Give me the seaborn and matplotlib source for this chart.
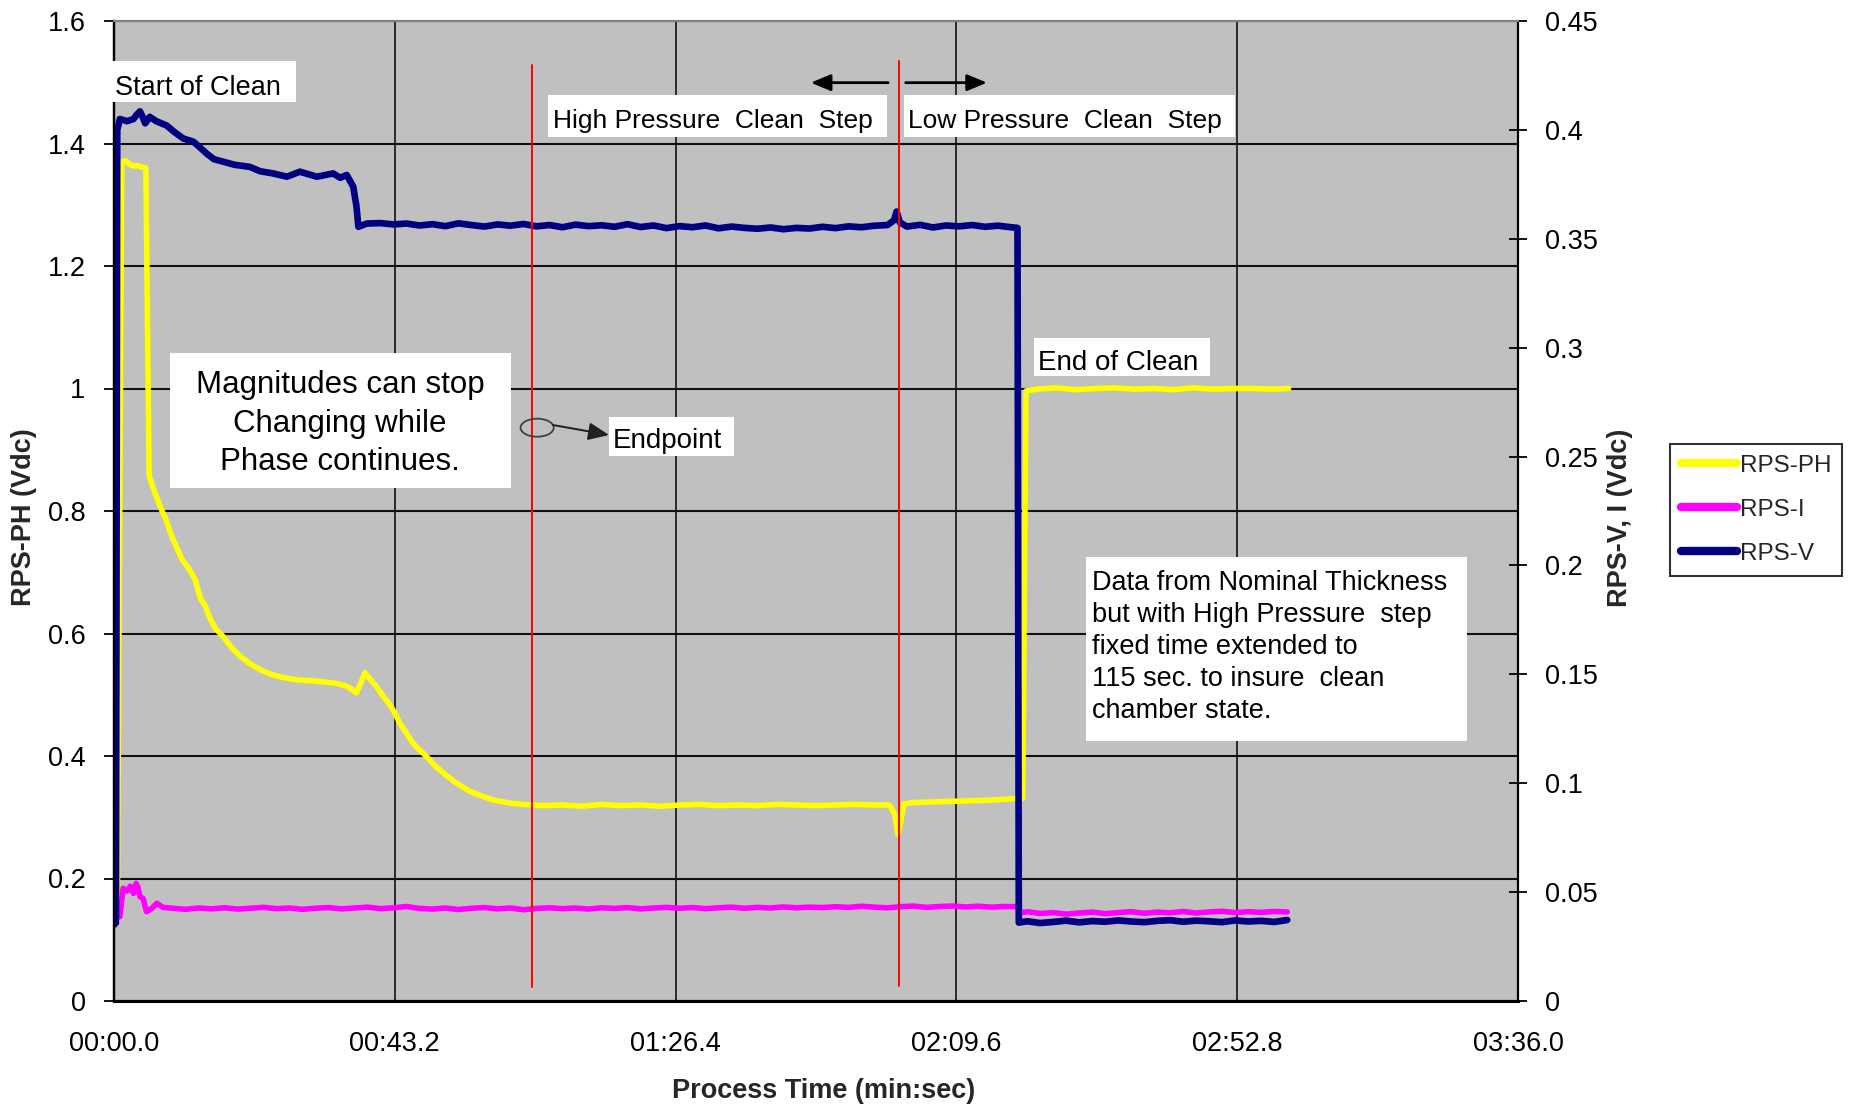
import numpy as np
import matplotlib
matplotlib.use("Agg")
import matplotlib.pyplot as plt
import seaborn as sns
from matplotlib.patches import Rectangle, Ellipse
from matplotlib.lines import Line2D
from matplotlib.ticker import FuncFormatter, FixedLocator

sns.set_style("white")
plt.rcParams['font.family'] = ['Liberation Sans', 'DejaVu Sans']

# ---------------- process data (time in seconds) ----------------
# RPS-PH (left axis, Vdc)
ph_t_start = [0.5, 1.2, 1.8, 2.4, 3.0, 3.6, 4.2, 4.9, 5.4]
ph_v_start = [0.13, 1.370, 1.372, 1.366, 1.363, 1.364, 1.362, 1.360, 0.858]
ph_t_decay = [5.7, 6.3, 7.1, 8.0, 8.9, 9.6, 10.4, 11.5, 12.5, 13.0,
              13.4, 14.0, 14.8, 15.7, 16.8, 18.0, 19.4, 21.0, 22.5, 24.5,
              26.6, 28.5, 30.5, 32.2, 34.0, 35.5, 36.3, 37.3, 38.0, 38.6,
              39.3, 40.4, 41.4, 42.5, 43.3, 44.0, 45.0, 46.0, 47.0, 48.1,
              49.3, 50.7, 52.5, 54.8, 56.5, 58.4, 61.0, 63.0]
ph_v_decay = [0.848, 0.830, 0.807, 0.786, 0.758, 0.742, 0.722, 0.706, 0.688, 0.668,
              0.655, 0.646, 0.624, 0.607, 0.595, 0.578, 0.563, 0.550, 0.541, 0.532,
              0.527, 0.524, 0.523, 0.521, 0.519, 0.515, 0.511, 0.503, 0.520, 0.536,
              0.527, 0.513, 0.498, 0.483, 0.468, 0.453, 0.437, 0.421, 0.410, 0.399,
              0.385, 0.372, 0.357, 0.342, 0.335, 0.328, 0.323, 0.321]
ph_t_high = [66, 69, 72, 75, 78, 81, 84, 87, 90, 93, 96, 99, 102, 105, 108, 111, 114, 117]
ph_v_high = [0.319, 0.320, 0.318, 0.321, 0.319, 0.320, 0.318, 0.320, 0.321, 0.319,
             0.320, 0.319, 0.321, 0.320, 0.319, 0.320, 0.321, 0.320]
ph_t_switch = [119.3, 120.1, 120.6, 121.0, 121.5]
ph_v_switch = [0.320, 0.305, 0.272, 0.290, 0.322]
ph_t_low = [123, 126, 129, 132, 135, 138, 139.8, 140.3]
ph_v_low = [0.324, 0.325, 0.326, 0.327, 0.328, 0.330, 0.331, 0.996]
ph_t_end = [142, 145, 148, 151, 154, 157, 160, 163, 166, 169, 172, 175, 178, 180.7]
ph_v_end = [0.999, 1.001, 0.998, 1.000, 1.001, 0.999, 1.000, 0.998, 1.001, 0.999,
            1.000, 1.000, 0.999, 1.000]

# RPS-V (right axis, Vdc)
v_t_start = [0.0, 0.3, 0.5, 0.9, 2.0, 3.0, 3.5, 4.0, 4.4, 4.8,
             5.5, 6.5, 8.1, 9.3, 10.7, 12.2, 13.2, 14.3, 15.4, 16.8,
             18.5, 20.9, 22.5, 24.5, 26.6, 28.6, 31.2, 33.7, 34.8, 35.8,
             36.8, 37.3, 37.6, 38.9]
v_v_start = [0.035, 0.036, 0.400, 0.405, 0.404, 0.405, 0.407, 0.4085, 0.406, 0.403,
             0.406, 0.404, 0.402, 0.399, 0.396, 0.3946, 0.392, 0.389, 0.3865, 0.3854,
             0.384, 0.383, 0.381, 0.380, 0.3785, 0.3808, 0.3785, 0.380, 0.378, 0.3793,
             0.374, 0.365, 0.3555, 0.357]
v_t_high = np.arange(41, 120, 2)
v_v_high = [0.3572, 0.3566, 0.3570, 0.3561, 0.3567, 0.3558, 0.3571, 0.3563, 0.3556, 0.3566,
            0.3560, 0.3568, 0.3557, 0.3563, 0.3553, 0.3565, 0.3558, 0.3562, 0.3555, 0.3567,
            0.3554, 0.3561, 0.3549, 0.3558, 0.3553, 0.3561, 0.3548, 0.3556, 0.3550, 0.3546,
            0.3552, 0.3544, 0.3550, 0.3547, 0.3555, 0.3549, 0.3557, 0.3553, 0.3560, 0.3563]
v_t_switch = [120.0, 120.4, 120.9]
v_v_switch = [0.3585, 0.3625, 0.3575]
v_t_low = [122, 124, 126, 128, 130, 132, 134, 136, 138, 139.0, 139.2]
v_v_low = [0.3556, 0.3564, 0.3552, 0.3561, 0.3557, 0.3563, 0.3555, 0.3560, 0.3553, 0.3550, 0.0360]
v_t_end = np.arange(140.5, 181, 2)
v_v_end = [0.0366, 0.0358, 0.0363, 0.0369, 0.0361, 0.0367, 0.0364, 0.0370, 0.0365, 0.0362,
           0.0368, 0.0371, 0.0364, 0.0369, 0.0366, 0.0362, 0.0370, 0.0365, 0.0368, 0.0363, 0.0372]

# RPS-I (right axis, Vdc)
i_t_start = [0.9, 1.4, 2.0, 2.5, 3.0, 3.4, 3.7, 4.0, 4.5, 5.0, 5.8, 6.6, 7.5]
i_v_start = [0.0387, 0.0517, 0.0505, 0.0527, 0.0494, 0.0540, 0.0520, 0.0479, 0.0470, 0.0410,
             0.0425, 0.0449, 0.0430]
i_t_run = np.arange(9, 139, 2)
i_v_run = [0.0426, 0.0421, 0.0427, 0.0423, 0.0428, 0.0422, 0.0426, 0.0430, 0.0424, 0.0427,
           0.0421, 0.0426, 0.0429, 0.0423, 0.0427, 0.0431, 0.0424, 0.0428, 0.0434, 0.0425,
           0.0422, 0.0427, 0.0420, 0.0426, 0.0429, 0.0423, 0.0427, 0.0419, 0.0425, 0.0428,
           0.0424, 0.0427, 0.0422, 0.0428, 0.0425, 0.0429, 0.0423, 0.0427, 0.0430, 0.0426,
           0.0429, 0.0424, 0.0428, 0.0431, 0.0426, 0.0430, 0.0427, 0.0432, 0.0428, 0.0431,
           0.0429, 0.0433, 0.0430, 0.0435, 0.0431, 0.0428, 0.0433, 0.0436, 0.0430, 0.0434,
           0.0436, 0.0432, 0.0435, 0.0431, 0.0434]
i_t_drop = [139.1, 139.5]
i_v_drop = [0.0433, 0.0405]
i_t_end = np.arange(140.5, 181, 2)
i_v_end = [0.0410, 0.0402, 0.0406, 0.0399, 0.0404, 0.0408, 0.0401, 0.0406, 0.0410, 0.0403,
           0.0408, 0.0405, 0.0411, 0.0404, 0.0409, 0.0412, 0.0406, 0.0410, 0.0407, 0.0411, 0.0409]

# step boundary markers (time, bottom, top in left-axis units)
marker_t = [64.3, 120.8]
marker_lo = [0.023, 0.025]
marker_hi = [1.528, 1.535]

x_ticks = [0.0, 43.2, 86.4, 129.6, 172.8, 216.0]
left_ticks = [0, 0.2, 0.4, 0.6, 0.8, 1.0, 1.2, 1.4, 1.6]
right_ticks = [0, 0.05, 0.1, 0.15, 0.2, 0.25, 0.3, 0.35, 0.4, 0.45]
series_names = ["RPS-PH", "RPS-I", "RPS-V"]
series_colors = ["#FFFF00", "#FF00FF", "#000080"]

ph_t = np.concatenate([ph_t_start, ph_t_decay, ph_t_high, ph_t_switch, ph_t_low, ph_t_end])
ph_v = np.concatenate([ph_v_start, ph_v_decay, ph_v_high, ph_v_switch, ph_v_low, ph_v_end])
v_t = np.concatenate([v_t_start, v_t_high, v_t_switch, v_t_low, v_t_end])
v_v = np.concatenate([v_v_start, v_v_high, v_v_switch, v_v_low, v_v_end])
i_t = np.concatenate([i_t_start, i_t_run, i_t_drop, i_t_end])
i_v = np.concatenate([i_v_start, i_v_run, i_v_drop, i_v_end])

# ---------------- figure ----------------
W, H = 1862, 1108
fig = plt.figure(figsize=(W / 100, H / 100), dpi=100)
fig.patch.set_facecolor("white")
ax = fig.add_axes([114 / W, 107 / H, 1404 / W, 980 / H])
ax.set_facecolor("#C0C0C0")
ax2 = ax.twinx()

line_kw = dict(estimator=None, sort=False, legend=False)
sns.lineplot(x=ph_t, y=ph_v, ax=ax, color=series_colors[0], linewidth=4.0,
             solid_joinstyle="round", **line_kw)
sns.lineplot(x=i_t, y=i_v, ax=ax2, color=series_colors[1], linewidth=4.0,
             solid_joinstyle="round", **line_kw)
sns.lineplot(x=v_t, y=v_v, ax=ax2, color=series_colors[2], linewidth=4.8,
             solid_joinstyle="round", **line_kw)

ax.set_xlim(0, 216)
ax.set_ylim(0, 1.6)
ax2.set_ylim(0, 0.45)
ax.set_xlabel("")
ax.set_ylabel("")
ax2.set_ylabel("")

ax.xaxis.set_major_locator(FixedLocator(x_ticks))
ax.xaxis.set_major_formatter(FuncFormatter(
    lambda t, p: f"{int(round(t, 1) // 60):02d}:{round(t, 1) % 60:04.1f}"))
ax.yaxis.set_major_locator(FixedLocator(left_ticks))
ax.yaxis.set_major_formatter(FuncFormatter(lambda v, p: f"{round(v, 2):g}"))
ax2.yaxis.set_major_locator(FixedLocator(right_ticks))
ax2.yaxis.set_major_formatter(FuncFormatter(lambda v, p: f"{round(v, 2):g}"))

ax.grid(True, axis="y", color="#111111", linewidth=1.5)
ax.grid(True, axis="x", color="#111111", linewidth=1.2)
ax.set_axisbelow(True)

ax.tick_params(axis="y", direction="out", length=7.5, width=1.3, pad=13,
               labelsize=19.5, colors="black")
ax.tick_params(axis="x", direction="out", length=7.5, width=1.3, pad=14,
               labelsize=19.5, colors="black")
ax2.tick_params(axis="y", direction="inout", length=13, width=1.3, pad=13,
                labelsize=19.5, colors="black")

for a in (ax, ax2):
    a.spines["left"].set_color("black")
    a.spines["left"].set_linewidth(1.6)
    a.spines["right"].set_color("black")
    a.spines["right"].set_linewidth(1.5)
    a.spines["bottom"].set_color("black")
    a.spines["bottom"].set_linewidth(2.2)
    a.spines["top"].set_color("#808080")
    a.spines["top"].set_linewidth(1.5)

# step boundary markers
for x0, y0, y1 in zip(marker_t, marker_lo, marker_hi):
    ax2.add_line(Line2D([x0, x0], [y0, y1], transform=ax.transData,
                        color="#FF0000", linewidth=1.4, zorder=5))

# annotation boxes (left-axis coordinates)
def box(t0, t1, v0, v1):
    ax2.add_patch(Rectangle((t0, v0), t1 - t0, v1 - v0, transform=ax.transData,
                            facecolor="white", edgecolor="none", zorder=6, clip_on=False))

def label(t, v, s, size, ha="left"):
    ax2.text(t, v, s, transform=ax.transData, fontsize=size, ha=ha, va="baseline",
             color="black", zorder=8, clip_on=False)

box(-0.3, 28.0, 1.467, 1.534)
label(0.2, 1.4792, "Start of Clean", 19.5)

box(66.8, 118.9, 1.411, 1.479)
label(67.5, 1.4248, "High Pressure  Clean  Step", 19)
box(121.6, 172.4, 1.411, 1.479)
label(122.2, 1.4248, "Low Pressure  Clean  Step", 19)

box(141.6, 168.6, 1.0198, 1.0819)
label(142.2, 1.0302, "End of Clean", 20)

box(76.1, 95.4, 0.889, 0.954)
label(76.8, 0.9024, "Endpoint", 20)

box(8.6, 61.0, 0.8375, 1.0585)
mag_lines = ["Magnitudes can stop", "Changing while", "Phase continues."]
for k, s in enumerate(mag_lines):
    label(34.8, (1001 - (393.5 + 38.3 * k)) / 612.5, s, 22.5, ha="center")

box(149.6, 208.2, 0.425, 0.7251)
note_lines = ["Data from Nominal Thickness", "but with High Pressure  step",
              "fixed time extended to", "115 sec. to insure  clean", "chamber state."]
for k, s in enumerate(note_lines):
    label(150.4, (1001 - (590 + 32.1 * k)) / 612.5, s, 19.5)

# step direction arrows
arrow_kw = dict(arrowstyle="-|>,head_length=0.6,head_width=0.25", mutation_scale=20,
                color="black", lw=2, shrinkA=0, shrinkB=0)
ax2.annotate("", xy=(107.2, 1.4993), xytext=(119.1, 1.4993), xycoords=ax.transData,
             textcoords=ax.transData, arrowprops=arrow_kw, zorder=7)
ax2.annotate("", xy=(134.3, 1.4993), xytext=(121.8, 1.4993), xycoords=ax.transData,
             textcoords=ax.transData, arrowprops=arrow_kw, zorder=7)

# endpoint callout
ax2.add_patch(Ellipse((65.1, 0.936), 5.1, 0.0294, transform=ax.transData, fill=False,
                      edgecolor="#404040", linewidth=1.3, zorder=7))
ax2.annotate("", xy=(76.15, 0.9241), xytext=(67.54, 0.9404), xycoords=ax.transData,
             textcoords=ax.transData,
             arrowprops=dict(arrowstyle="-|>,head_length=0.7,head_width=0.3",
                             mutation_scale=18, color="#202020", lw=1.4,
                             shrinkA=0, shrinkB=0), zorder=7)

# axis titles
fig.text(823.5 / W, 1 - 1098 / H, "Process Time (min:sec)", ha="center", va="baseline",
         fontsize=19.5, fontweight="bold")
fig.text(24 / W, 1 - 517.5 / H, "RPS-PH (Vdc)", rotation=90, ha="center", va="center",
         fontsize=19.5, fontweight="bold")
fig.text(1620 / W, 1 - 517.5 / H, "RPS-V, I (Vdc)", rotation=90, ha="center", va="center",
         fontsize=19.5, fontweight="bold")

# legend
handles = [Line2D([0], [0], color=c, linewidth=6, solid_capstyle="round")
           for c in series_colors]
leg = fig.legend(handles, series_names, loc="upper left",
                 bbox_to_anchor=(1670 / W, 1 - 444 / H), borderaxespad=0,
                 fontsize=17.5, frameon=True, fancybox=False, shadow=False,
                 handlelength=2.3, handletextpad=0.12, borderpad=0.45,
                 labelspacing=0.9)
leg.get_frame().set_edgecolor("black")
leg.get_frame().set_linewidth(1.5)
leg.get_frame().set_facecolor("white")

fig.savefig("out.png", dpi=100, facecolor="white")
